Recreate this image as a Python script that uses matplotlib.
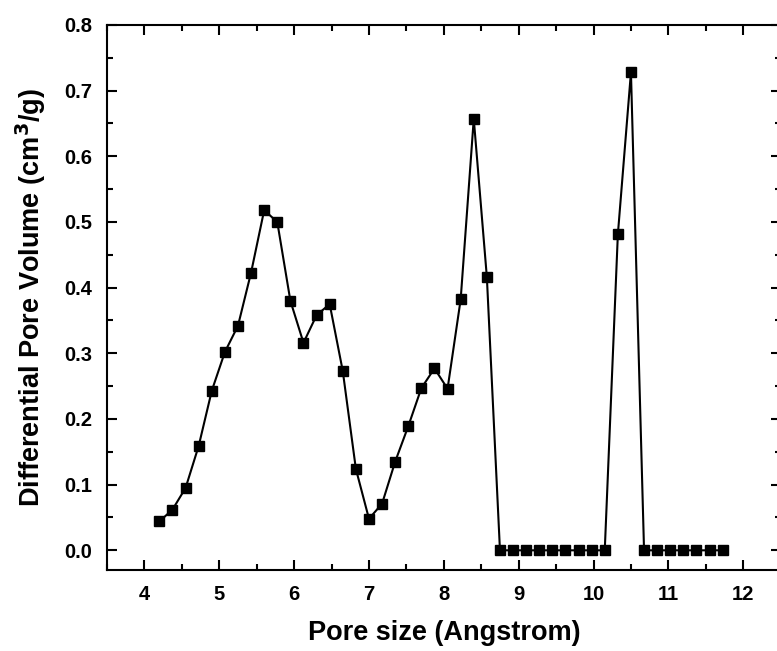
import matplotlib
matplotlib.use("Agg")
import matplotlib.pyplot as plt
from matplotlib.ticker import MultipleLocator

plt.rcParams['font.family'] = ['Liberation Sans', 'DejaVu Sans']
plt.rcParams['font.weight'] = 'bold'

# pore size (Angstrom) and differential pore volume (cm3/g)
pore_size = [4.2, 4.375, 4.55, 4.725, 4.9, 5.075, 5.25, 5.425, 5.6, 5.775,
             5.95, 6.125, 6.3, 6.475, 6.65, 6.825, 7.0, 7.175, 7.35, 7.525,
             7.7, 7.875, 8.05, 8.225, 8.4, 8.575, 8.75, 8.925, 9.1, 9.275,
             9.45, 9.625, 9.8, 9.975, 10.15, 10.325, 10.5, 10.675, 10.85, 11.025,
             11.2, 11.375, 11.55, 11.725]
pore_volume = [0.044, 0.062, 0.095, 0.159, 0.243, 0.302, 0.342, 0.423, 0.518, 0.500,
               0.380, 0.316, 0.358, 0.375, 0.273, 0.124, 0.048, 0.071, 0.135, 0.189,
               0.247, 0.277, 0.246, 0.382, 0.657, 0.416, 0.0, 0.0, 0.0, 0.0,
               0.0, 0.0, 0.0, 0.0, 0.0, 0.481, 0.728, 0.0, 0.0, 0.0,
               0.0, 0.0, 0.0, 0.0]

fig = plt.figure(figsize=(7.77, 6.51), dpi=100)
ax = fig.add_axes([0.1377, 0.1244, 0.867, 0.8372])

ax.plot(pore_size, pore_volume, color='black', linewidth=1.5,
        marker='s', markersize=7.2)

ax.set_xlim(3.5, 12.5)
ax.set_ylim(-0.03, 0.8)
ax.xaxis.set_major_locator(MultipleLocator(1))
ax.xaxis.set_minor_locator(MultipleLocator(0.5))
ax.yaxis.set_major_locator(MultipleLocator(0.1))
ax.yaxis.set_minor_locator(MultipleLocator(0.05))
ax.yaxis.set_major_formatter(plt.FormatStrFormatter('%.1f'))

ax.tick_params(which='both', direction='in', top=True, right=True, width=1.5)
ax.tick_params(which='major', length=7, labelsize=14.5)
ax.tick_params(which='minor', length=4)
ax.tick_params(axis='x', which='major', pad=11)
ax.tick_params(axis='y', which='major', pad=10.5)
for sp in ax.spines.values():
    sp.set_linewidth(1.5)

ax.set_xlabel('Pore size (Angstrom)', fontsize=19.5, fontweight='bold', labelpad=11)
ax.set_ylabel('Differential Pore Volume (cm$^\\mathbf{3}$/g)', fontsize=19.5,
              fontweight='bold', labelpad=12)

fig.savefig('out.png', dpi=100)
